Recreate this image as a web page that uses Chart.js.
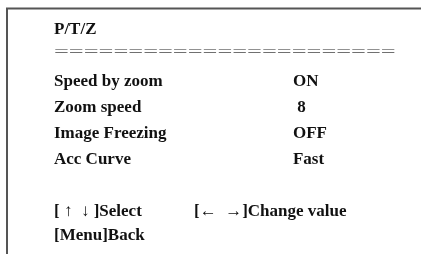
<!DOCTYPE html>
<html>
<head>
<meta charset="utf-8">
<script src="https://cdn.jsdelivr.net/npm/chart.js@4"></script>
<style>
  html, body { margin: 0; padding: 0; background: #ffffff; }
  #wrap { width: 421px; height: 254px; position: relative; }
</style>
</head>
<body>
<div id="wrap"><canvas id="chartCanvas" width="421" height="254"></canvas></div>
<script>
(function() {
  'use strict';

  // Menu content
  const menuTitle = 'P/T/Z';
  const menuLabels = ['Speed by zoom', 'Zoom speed', 'Image Freezing', 'Acc Curve'];
  const menuValues = ['ON', ' 8', 'OFF', 'Fast'];
  const footerLeft = ['[ \u2191  \u2193 ]Select', '[Menu]Back'];
  const footerRight = ['[\u2190  \u2192]Change value', ''];

  // Row slots on the y scale (0 = title row) and column slots on x
  const titleRow = 0;
  const ruleRow = 0.92;
  const itemRows = [2, 3, 4, 5];
  const footerRows = [7, 7.95];
  const labelCol = 0;
  const valueCol = 1;
  const hintCol = 0.586;
  const ruleEnd = 1.43;

  const FONT_SIZE = 17;
  const FONT = 'bold ' + FONT_SIZE + 'px "Liberation Serif", "DejaVu Serif", serif';

  const points = [];
  points.push({ x: labelCol, y: titleRow, text: menuTitle });
  menuLabels.forEach((t, i) => {
    points.push({ x: labelCol, y: itemRows[i], text: t });
    points.push({ x: valueCol, y: itemRows[i], text: menuValues[i] });
  });
  footerLeft.forEach((t, i) => {
    points.push({ x: labelCol, y: footerRows[i], text: t });
    if (footerRight[i]) points.push({ x: hintCol, y: footerRows[i], text: footerRight[i] });
  });

  // Frame + text drawn at positions from the chart's own scales
  const menuPlugin = {
    id: 'menuText',
    beforeDraw(chart) {
      const c = chart.ctx;
      c.save();
      c.strokeStyle = '#555555';
      c.lineWidth = 2;
      c.beginPath();
      c.moveTo(7, chart.height);
      c.lineTo(7, 8.5);
      c.lineTo(chart.width, 8.5);
      c.stroke();
      c.restore();
    },
    afterDatasetsDraw(chart) {
      const c = chart.ctx;
      const xs = chart.scales.x;
      const ys = chart.scales.y;
      const capShift = FONT_SIZE * 0.33;
      c.save();
      c.font = FONT;
      c.fillStyle = '#111111';
      c.textBaseline = 'alphabetic';
      c.textAlign = 'left';
      chart.data.datasets[0].data.forEach(p => {
        c.fillText(p.text, xs.getPixelForValue(p.x), ys.getPixelForValue(p.y) + capShift);
      });
      // the ===== rule
      const x0 = xs.getPixelForValue(labelCol);
      const x1 = xs.getPixelForValue(ruleEnd);
      const yr = ys.getPixelForValue(ruleRow);
      c.font = '16px "Liberation Serif", serif';
      c.fillStyle = '#707070';
      c.textBaseline = 'middle';
      const eq = '=======================';
      const w = c.measureText(eq).width;
      c.translate(x0, yr);
      c.scale((x1 - x0) / w, 1.1);
      c.fillText(eq, 0, 0);
      c.restore();
    }
  };

  new Chart(document.getElementById('chartCanvas').getContext('2d'), {
    type: 'scatter',
    data: {
      datasets: [{ data: points, pointRadius: 0, showLine: false }]
    },
    options: {
      responsive: false,
      animation: false,
      layout: { padding: 0 },
      plugins: { legend: { display: false }, tooltip: { enabled: false } },
      scales: {
        x: { display: false, min: -0.226, max: 1.536 },
        y: { display: false, reverse: true, min: -1.077, max: 8.692 }
      }
    },
    plugins: [menuPlugin]
  });
})();
</script>
</body>
</html>
